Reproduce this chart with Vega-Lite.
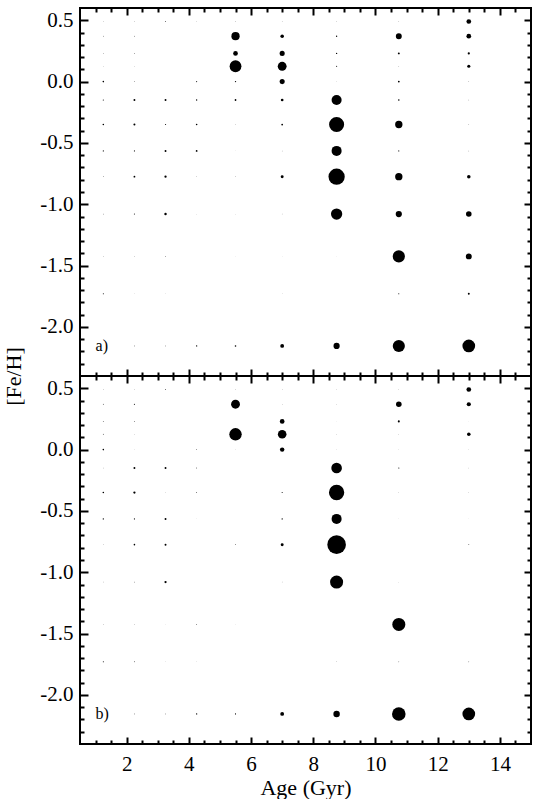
{
  "$schema": "https://vega.github.io/schema/vega-lite/v6.json",
  "padding": {"left": 1, "top": 6, "right": 0, "bottom": 0},
  "background": "white",
  "bounds": "flush",
  "config": {
    "view": {"stroke": "black", "strokeWidth": 2},
    "font": "Liberation Serif",
    "axis": {
      "labelFont": "Liberation Serif", "titleFont": "Liberation Serif",
      "labelFontSize": 21, "titleFontSize": 22, "titleFontWeight": "normal",
      "labelColor": "black", "titleColor": "black", "tickColor": "black",
      "tickWidth": 2, "domain": false, "grid": false, "labelOverlap": false
    }
  },
  "datasets": {
    "pts": [
      {"panel":"a","age":1.25,"feh":0.49,"weight":0.0025},{"panel":"a","age":1.25,"feh":0.37,"weight":0.0064},{"panel":"a","age":1.25,"feh":0.23,"weight":0.0036},{"panel":"a","age":1.25,"feh":0.125,"weight":0.0016},{"panel":"a","age":1.25,"feh":0,"weight":0.0324},{"panel":"a","age":1.25,"feh":-0.15,"weight":0.0169},{"panel":"a","age":1.25,"feh":-0.35,"weight":0.0324},{"panel":"a","age":1.25,"feh":-0.565,"weight":0.0169},{"panel":"a","age":1.25,"feh":-0.775,"weight":0.0049},{"panel":"a","age":1.25,"feh":-1.08,"weight":0.0049},{"panel":"a","age":1.25,"feh":-1.425,"weight":0.0036},{"panel":"a","age":1.25,"feh":-1.73,"weight":0.0144},
      {"panel":"a","age":2.25,"feh":0.49,"weight":0.0036},{"panel":"a","age":2.25,"feh":0.37,"weight":0.0081},{"panel":"a","age":2.25,"feh":0.23,"weight":0.0064},{"panel":"a","age":2.25,"feh":0.125,"weight":0.0016},{"panel":"a","age":2.25,"feh":0,"weight":0.0064},{"panel":"a","age":2.25,"feh":-0.15,"weight":0.0484},{"panel":"a","age":2.25,"feh":-0.35,"weight":0.0529},{"panel":"a","age":2.25,"feh":-0.565,"weight":0.0144},{"panel":"a","age":2.25,"feh":-0.775,"weight":0.04},{"panel":"a","age":2.25,"feh":-1.08,"weight":0.0144},{"panel":"a","age":2.25,"feh":-1.425,"weight":0.0036},{"panel":"a","age":2.25,"feh":-1.73,"weight":0.0016},{"panel":"a","age":2.25,"feh":-2.155,"weight":0.0081},
      {"panel":"a","age":3.25,"feh":0.49,"weight":0.01},{"panel":"a","age":3.25,"feh":-0.15,"weight":0.0484},{"panel":"a","age":3.25,"feh":-0.35,"weight":0.0169},{"panel":"a","age":3.25,"feh":-0.565,"weight":0.0484},{"panel":"a","age":3.25,"feh":-0.775,"weight":0.0676},{"panel":"a","age":3.25,"feh":-1.08,"weight":0.0784},{"panel":"a","age":3.25,"feh":-1.425,"weight":0.0064},{"panel":"a","age":3.25,"feh":-1.73,"weight":0.0016},{"panel":"a","age":3.25,"feh":-2.155,"weight":0.0064},
      {"panel":"a","age":4.25,"feh":0.49,"weight":0.0016},{"panel":"a","age":4.25,"feh":0,"weight":0.0144},{"panel":"a","age":4.25,"feh":-0.15,"weight":0.0225},{"panel":"a","age":4.25,"feh":-0.35,"weight":0.0324},{"panel":"a","age":4.25,"feh":-0.565,"weight":0.04},{"panel":"a","age":4.25,"feh":-0.775,"weight":0.0025},{"panel":"a","age":4.25,"feh":-1.08,"weight":0.0016},{"panel":"a","age":4.25,"feh":-2.155,"weight":0.0225},
      {"panel":"a","age":5.5,"feh":0.49,"weight":0.0036},{"panel":"a","age":5.5,"feh":0.37,"weight":0.8649},{"panel":"a","age":5.5,"feh":0.23,"weight":0.2809},{"panel":"a","age":5.5,"feh":0.125,"weight":1.7689},{"panel":"a","age":5.5,"feh":0,"weight":0.0225},{"panel":"a","age":5.5,"feh":-0.15,"weight":0.04},{"panel":"a","age":5.5,"feh":-0.35,"weight":0.0025},{"panel":"a","age":5.5,"feh":-0.565,"weight":0.0016},{"panel":"a","age":5.5,"feh":-0.775,"weight":0.0036},{"panel":"a","age":5.5,"feh":-1.08,"weight":0.0016},{"panel":"a","age":5.5,"feh":-1.425,"weight":0.0016},{"panel":"a","age":5.5,"feh":-2.155,"weight":0.0324},
      {"panel":"a","age":7.0,"feh":0.49,"weight":0.0025},{"panel":"a","age":7.0,"feh":0.37,"weight":0.16},{"panel":"a","age":7.0,"feh":0.23,"weight":0.3249},{"panel":"a","age":7.0,"feh":0.125,"weight":1.0},{"panel":"a","age":7.0,"feh":0,"weight":0.3249},{"panel":"a","age":7.0,"feh":-0.15,"weight":0.09},{"panel":"a","age":7.0,"feh":-0.35,"weight":0.04},{"panel":"a","age":7.0,"feh":-0.565,"weight":0.0036},{"panel":"a","age":7.0,"feh":-0.775,"weight":0.1089},{"panel":"a","age":7.0,"feh":-1.08,"weight":0.0025},{"panel":"a","age":7.0,"feh":-1.425,"weight":0.0016},{"panel":"a","age":7.0,"feh":-1.73,"weight":0.0016},{"panel":"a","age":7.0,"feh":-2.155,"weight":0.1849},
      {"panel":"a","age":8.75,"feh":0.49,"weight":0.0025},{"panel":"a","age":8.75,"feh":0.37,"weight":0.0225},{"panel":"a","age":8.75,"feh":0.23,"weight":0.0225},{"panel":"a","age":8.75,"feh":0.125,"weight":0.0169},{"panel":"a","age":8.75,"feh":0,"weight":0.0025},{"panel":"a","age":8.75,"feh":-0.15,"weight":1.2769},{"panel":"a","age":8.75,"feh":-0.35,"weight":2.89},{"panel":"a","age":8.75,"feh":-0.565,"weight":1.2769},{"panel":"a","age":8.75,"feh":-0.775,"weight":3.3489},{"panel":"a","age":8.75,"feh":-1.08,"weight":1.6129},{"panel":"a","age":8.75,"feh":-1.425,"weight":0.0016},{"panel":"a","age":8.75,"feh":-2.155,"weight":0.49},
      {"panel":"a","age":10.75,"feh":0.49,"weight":0.0025},{"panel":"a","age":10.75,"feh":0.37,"weight":0.4489},{"panel":"a","age":10.75,"feh":0.23,"weight":0.0484},{"panel":"a","age":10.75,"feh":0.125,"weight":0.0036},{"panel":"a","age":10.75,"feh":0,"weight":0.04},{"panel":"a","age":10.75,"feh":-0.15,"weight":0.0324},{"panel":"a","age":10.75,"feh":-0.35,"weight":0.6889},{"panel":"a","age":10.75,"feh":-0.565,"weight":0.0144},{"panel":"a","age":10.75,"feh":-0.775,"weight":0.6889},{"panel":"a","age":10.75,"feh":-1.08,"weight":0.49},{"panel":"a","age":10.75,"feh":-1.425,"weight":1.8769},{"panel":"a","age":10.75,"feh":-1.73,"weight":0.0144},{"panel":"a","age":10.75,"feh":-2.155,"weight":1.8769},
      {"panel":"a","age":13.0,"feh":0.49,"weight":0.2809},{"panel":"a","age":13.0,"feh":0.37,"weight":0.2809},{"panel":"a","age":13.0,"feh":0.23,"weight":0.0625},{"panel":"a","age":13.0,"feh":0.125,"weight":0.1225},{"panel":"a","age":13.0,"feh":0,"weight":0.0036},{"panel":"a","age":13.0,"feh":-0.15,"weight":0.0036},{"panel":"a","age":13.0,"feh":-0.35,"weight":0.0036},{"panel":"a","age":13.0,"feh":-0.565,"weight":0.0036},{"panel":"a","age":13.0,"feh":-0.775,"weight":0.16},{"panel":"a","age":13.0,"feh":-1.08,"weight":0.3969},{"panel":"a","age":13.0,"feh":-1.425,"weight":0.4489},{"panel":"a","age":13.0,"feh":-1.73,"weight":0.0484},{"panel":"a","age":13.0,"feh":-2.155,"weight":2.0449},
      {"panel":"b","age":1.25,"feh":0.49,"weight":0.0036},{"panel":"b","age":1.25,"feh":0.37,"weight":0.01},{"panel":"b","age":1.25,"feh":0.23,"weight":0.01},{"panel":"b","age":1.25,"feh":0.125,"weight":0.01},{"panel":"b","age":1.25,"feh":0,"weight":0.0324},{"panel":"b","age":1.25,"feh":-0.15,"weight":0.0036},{"panel":"b","age":1.25,"feh":-0.35,"weight":0.0324},{"panel":"b","age":1.25,"feh":-0.565,"weight":0.0225},{"panel":"b","age":1.25,"feh":-0.775,"weight":0.0025},{"panel":"b","age":1.25,"feh":-1.08,"weight":0.0036},{"panel":"b","age":1.25,"feh":-1.425,"weight":0.0036},{"panel":"b","age":1.25,"feh":-1.73,"weight":0.0144},
      {"panel":"b","age":2.25,"feh":0.49,"weight":0.0025},{"panel":"b","age":2.25,"feh":0.37,"weight":0.0169},{"panel":"b","age":2.25,"feh":0.23,"weight":0.01},{"panel":"b","age":2.25,"feh":0.125,"weight":0.0016},{"panel":"b","age":2.25,"feh":0,"weight":0.0016},{"panel":"b","age":2.25,"feh":-0.15,"weight":0.0484},{"panel":"b","age":2.25,"feh":-0.35,"weight":0.0676},{"panel":"b","age":2.25,"feh":-0.565,"weight":0.0169},{"panel":"b","age":2.25,"feh":-0.775,"weight":0.0324},{"panel":"b","age":2.25,"feh":-1.08,"weight":0.0064},{"panel":"b","age":2.25,"feh":-1.425,"weight":0.0036},{"panel":"b","age":2.25,"feh":-1.73,"weight":0.01},{"panel":"b","age":2.25,"feh":-2.155,"weight":0.0081},
      {"panel":"b","age":3.25,"feh":0.49,"weight":0.01},{"panel":"b","age":3.25,"feh":-0.15,"weight":0.0484},{"panel":"b","age":3.25,"feh":-0.35,"weight":0.0016},{"panel":"b","age":3.25,"feh":-0.565,"weight":0.0484},{"panel":"b","age":3.25,"feh":-0.775,"weight":0.0484},{"panel":"b","age":3.25,"feh":-1.08,"weight":0.0676},{"panel":"b","age":3.25,"feh":-1.425,"weight":0.0025},{"panel":"b","age":3.25,"feh":-1.73,"weight":0.0016},{"panel":"b","age":3.25,"feh":-2.155,"weight":0.0064},
      {"panel":"b","age":4.25,"feh":0,"weight":0.01},{"panel":"b","age":4.25,"feh":-0.15,"weight":0.01},{"panel":"b","age":4.25,"feh":-0.35,"weight":0.01},{"panel":"b","age":4.25,"feh":-0.565,"weight":0.0016},{"panel":"b","age":4.25,"feh":-1.425,"weight":0.01},{"panel":"b","age":4.25,"feh":-1.73,"weight":0.0016},{"panel":"b","age":4.25,"feh":-2.155,"weight":0.0225},
      {"panel":"b","age":5.5,"feh":0.49,"weight":0.0025},{"panel":"b","age":5.5,"feh":0.37,"weight":1.0},{"panel":"b","age":5.5,"feh":0.125,"weight":1.96},{"panel":"b","age":5.5,"feh":0,"weight":0.0016},{"panel":"b","age":5.5,"feh":-0.775,"weight":0.01},{"panel":"b","age":5.5,"feh":-1.425,"weight":0.0025},{"panel":"b","age":5.5,"feh":-2.155,"weight":0.0169},
      {"panel":"b","age":7.0,"feh":0.49,"weight":0.0016},{"panel":"b","age":7.0,"feh":0.37,"weight":0.0016},{"panel":"b","age":7.0,"feh":0.23,"weight":0.2809},{"panel":"b","age":7.0,"feh":0.125,"weight":0.9409},{"panel":"b","age":7.0,"feh":0,"weight":0.25},{"panel":"b","age":7.0,"feh":-0.35,"weight":0.0144},{"panel":"b","age":7.0,"feh":-0.565,"weight":0.0225},{"panel":"b","age":7.0,"feh":-0.775,"weight":0.1089},{"panel":"b","age":7.0,"feh":-1.08,"weight":0.0025},{"panel":"b","age":7.0,"feh":-2.155,"weight":0.1849},
      {"panel":"b","age":8.75,"feh":0.49,"weight":0.0016},{"panel":"b","age":8.75,"feh":0.37,"weight":0.0016},{"panel":"b","age":8.75,"feh":0.23,"weight":0.0016},{"panel":"b","age":8.75,"feh":0.125,"weight":0.0016},{"panel":"b","age":8.75,"feh":0,"weight":0.0016},{"panel":"b","age":8.75,"feh":-0.15,"weight":1.44},{"panel":"b","age":8.75,"feh":-0.35,"weight":2.9929},{"panel":"b","age":8.75,"feh":-0.565,"weight":1.2769},{"panel":"b","age":8.75,"feh":-0.775,"weight":4.41},{"panel":"b","age":8.75,"feh":-1.08,"weight":2.1609},{"panel":"b","age":8.75,"feh":-1.73,"weight":0.0025},{"panel":"b","age":8.75,"feh":-2.155,"weight":0.5329},
      {"panel":"b","age":10.75,"feh":0.49,"weight":0.0016},{"panel":"b","age":10.75,"feh":0.37,"weight":0.3969},{"panel":"b","age":10.75,"feh":0.23,"weight":0.0529},{"panel":"b","age":10.75,"feh":0.125,"weight":0.0016},{"panel":"b","age":10.75,"feh":0,"weight":0.0016},{"panel":"b","age":10.75,"feh":-0.15,"weight":0.0169},{"panel":"b","age":10.75,"feh":-0.35,"weight":0.0016},{"panel":"b","age":10.75,"feh":-0.565,"weight":0.0016},{"panel":"b","age":10.75,"feh":-1.08,"weight":0.0016},{"panel":"b","age":10.75,"feh":-1.425,"weight":2.1609},{"panel":"b","age":10.75,"feh":-1.73,"weight":0.0064},{"panel":"b","age":10.75,"feh":-2.155,"weight":2.3409},
      {"panel":"b","age":13.0,"feh":0.49,"weight":0.2809},{"panel":"b","age":13.0,"feh":0.37,"weight":0.2209},{"panel":"b","age":13.0,"feh":0.23,"weight":0.0016},{"panel":"b","age":13.0,"feh":0.125,"weight":0.16},{"panel":"b","age":13.0,"feh":0,"weight":0.0016},{"panel":"b","age":13.0,"feh":-0.15,"weight":0.0016},{"panel":"b","age":13.0,"feh":-0.35,"weight":0.0016},{"panel":"b","age":13.0,"feh":-0.565,"weight":0.0016},{"panel":"b","age":13.0,"feh":-0.775,"weight":0.01},{"panel":"b","age":13.0,"feh":-1.73,"weight":0.0064},{"panel":"b","age":13.0,"feh":-2.155,"weight":2.0449}
    ],
    "labels": [
      {"panel":"a","age":1.0,"feh":-2.155,"label":"a)"},
      {"panel":"b","age":1.0,"feh":-2.155,"label":"b)"}
    ]
  },
  "spacing": 0,
  "vconcat": [
    {
      "width": 451, "height": 368,
      "resolve": {"axis": {"x": "independent", "y": "independent"}},
      "layer": [
        {
          "data": {"name": "pts"},
          "transform": [{"filter": "datum.panel == 'a'"}],
          "mark": {"type": "circle", "color": "black", "opacity": 1},
          "encoding": {
            "x": {"field": "age", "type": "quantitative", "scale": {"domain": [0.5, 15], "nice": false, "zero": false},
              "axis": {"orient": "bottom", "values": [1,1.5,2,2.5,3,3.5,4,4.5,5,5.5,6,6.5,7,7.5,8,8.5,9,9.5,10,10.5,11,11.5,12,12.5,13,13.5,14,14.5],
                "tickSize": {"condition": {"test": "datum.value % 2 == 0", "value": -7}, "value": -4}, "labels": false, "title": null}},
            "y": {"field": "feh", "type": "quantitative", "scale": {"domain": [-2.4, 0.6], "nice": false, "zero": false},
              "axis": {"orient": "left", "values": [0.5,0.4,0.3,0.2,0.1,0,-0.1,-0.2,-0.3,-0.4,-0.5,-0.6,-0.7,-0.8,-0.9,-1,-1.1,-1.2,-1.3,-1.4,-1.5,-1.6,-1.7,-1.8,-1.9,-2,-2.1,-2.2,-2.3],
                "tickSize": {"condition": {"test": "abs(round(datum.value*10)) % 5 == 0", "value": -8}, "value": -4},
                "labelExpr": "abs(round(datum.value*10)) % 5 == 0 ? (datum.value < 0 ? '-' : '') + format(abs(datum.value), '.1f') : ''",
                "labelPadding": 15,
                "title": "[Fe/H]", "titleX": -67, "titleY": 368, "titleAlign": "center", "titleBaseline": "middle", "titleAngle": 270}},
            "size": {"field": "weight", "type": "quantitative", "scale": {"type": "linear", "domain": [0, 4.41], "range": [0, 346.4], "zero": true}, "legend": null}
          }
        },
        {
          "data": {"name": "labels"},
          "transform": [{"filter": "datum.panel == 'a'"}],
          "mark": {"type": "text", "align": "left", "baseline": "middle", "fontSize": 16, "font": "Liberation Serif", "color": "black"},
          "encoding": {
            "x": {"field": "age", "type": "quantitative", "scale": {"domain": [0.5, 15], "nice": false, "zero": false},
              "axis": {"orient": "top", "values": [1,1.5,2,2.5,3,3.5,4,4.5,5,5.5,6,6.5,7,7.5,8,8.5,9,9.5,10,10.5,11,11.5,12,12.5,13,13.5,14,14.5],
                "tickSize": {"condition": {"test": "datum.value % 2 == 0", "value": -7}, "value": -4}, "labels": false, "title": null}},
            "y": {"field": "feh", "type": "quantitative", "scale": {"domain": [-2.4, 0.6], "nice": false, "zero": false},
              "axis": {"orient": "right", "values": [0.5,0.4,0.3,0.2,0.1,0,-0.1,-0.2,-0.3,-0.4,-0.5,-0.6,-0.7,-0.8,-0.9,-1,-1.1,-1.2,-1.3,-1.4,-1.5,-1.6,-1.7,-1.8,-1.9,-2,-2.1,-2.2,-2.3],
                "tickSize": {"condition": {"test": "abs(round(datum.value*10)) % 5 == 0", "value": -7}, "value": -4}, "labels": false, "title": null}},
            "text": {"field": "label"}
          }
        }
      ]
    },
    {
      "width": 451, "height": 368,
      "resolve": {"axis": {"x": "independent", "y": "independent"}},
      "layer": [
        {
          "data": {"name": "pts"},
          "transform": [{"filter": "datum.panel == 'b'"}],
          "mark": {"type": "circle", "color": "black", "opacity": 1},
          "encoding": {
            "x": {"field": "age", "type": "quantitative", "scale": {"domain": [0.5, 15], "nice": false, "zero": false},
              "axis": {"orient": "bottom", "values": [1,1.5,2,2.5,3,3.5,4,4.5,5,5.5,6,6.5,7,7.5,8,8.5,9,9.5,10,10.5,11,11.5,12,12.5,13,13.5,14,14.5],
                "tickSize": {"condition": {"test": "datum.value % 2 == 0", "value": -7}, "value": -4},
                "labelExpr": "datum.value % 2 == 0 ? format(datum.value, 'd') : ''",
                "labelPadding": 16, "title": "Age (Gyr)", "titlePadding": 0}},
            "y": {"field": "feh", "type": "quantitative", "scale": {"domain": [-2.4, 0.6], "nice": false, "zero": false},
              "axis": {"orient": "left", "values": [0.5,0.4,0.3,0.2,0.1,0,-0.1,-0.2,-0.3,-0.4,-0.5,-0.6,-0.7,-0.8,-0.9,-1,-1.1,-1.2,-1.3,-1.4,-1.5,-1.6,-1.7,-1.8,-1.9,-2,-2.1,-2.2,-2.3],
                "tickSize": {"condition": {"test": "abs(round(datum.value*10)) % 5 == 0", "value": -8}, "value": -4},
                "labelExpr": "abs(round(datum.value*10)) % 5 == 0 ? (datum.value < 0 ? '-' : '') + format(abs(datum.value), '.1f') : ''",
                "labelPadding": 15, "title": null}},
            "size": {"field": "weight", "type": "quantitative", "scale": {"type": "linear", "domain": [0, 4.41], "range": [0, 346.4], "zero": true}, "legend": null}
          }
        },
        {
          "data": {"name": "labels"},
          "transform": [{"filter": "datum.panel == 'b'"}],
          "mark": {"type": "text", "align": "left", "baseline": "middle", "fontSize": 16, "font": "Liberation Serif", "color": "black"},
          "encoding": {
            "x": {"field": "age", "type": "quantitative", "scale": {"domain": [0.5, 15], "nice": false, "zero": false},
              "axis": {"orient": "top", "values": [1,1.5,2,2.5,3,3.5,4,4.5,5,5.5,6,6.5,7,7.5,8,8.5,9,9.5,10,10.5,11,11.5,12,12.5,13,13.5,14,14.5],
                "tickSize": {"condition": {"test": "datum.value % 2 == 0", "value": -7}, "value": -4}, "labels": false, "title": null}},
            "y": {"field": "feh", "type": "quantitative", "scale": {"domain": [-2.4, 0.6], "nice": false, "zero": false},
              "axis": {"orient": "right", "values": [0.5,0.4,0.3,0.2,0.1,0,-0.1,-0.2,-0.3,-0.4,-0.5,-0.6,-0.7,-0.8,-0.9,-1,-1.1,-1.2,-1.3,-1.4,-1.5,-1.6,-1.7,-1.8,-1.9,-2,-2.1,-2.2,-2.3],
                "tickSize": {"condition": {"test": "abs(round(datum.value*10)) % 5 == 0", "value": -7}, "value": -4}, "labels": false, "title": null}},
            "text": {"field": "label"}
          }
        }
      ]
    }
  ]
}
